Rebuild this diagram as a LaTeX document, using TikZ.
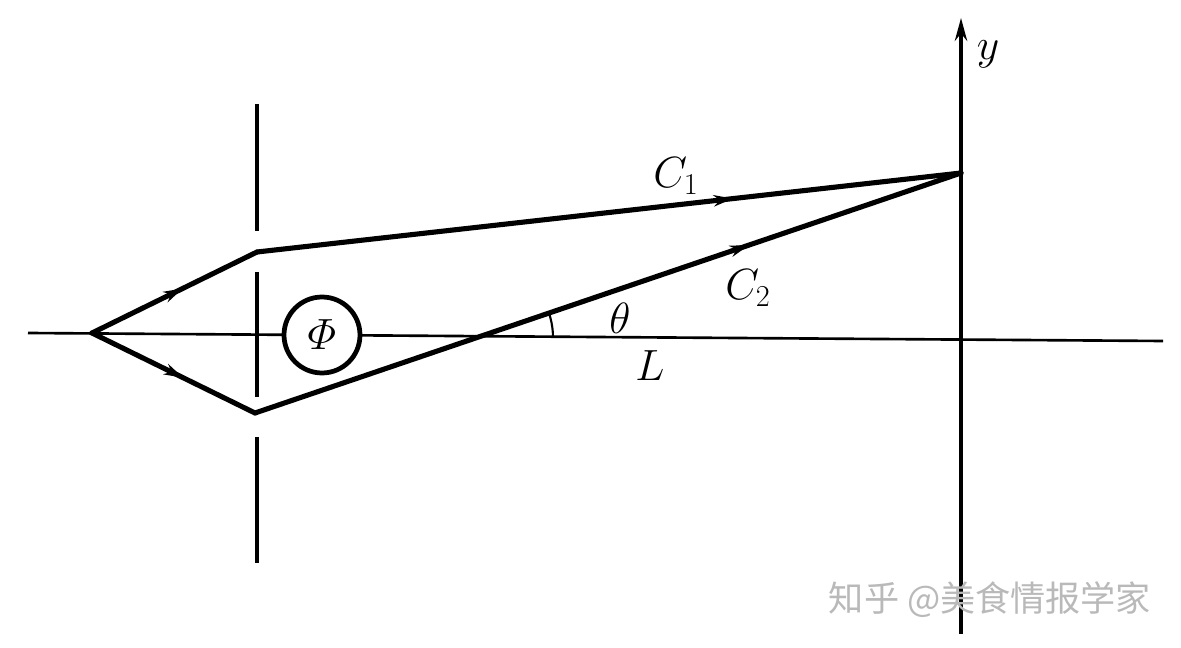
\documentclass[tikz,border=0pt]{standalone}
\usepackage{amsmath}
\usepackage{fontspec}
\newfontfamily\cjk{Noto Sans CJK SC}
\usetikzlibrary{arrows.meta,decorations.markings}

\begin{document}
\begin{tikzpicture}[x=0.02cm,y=-0.02cm,
  ray/.style={line width=2.9pt,line cap=round},
  midarrow/.style={postaction={decorate,decoration={markings,mark=at position #1 with {\arrow{Stealth[length=11pt,width=6.5pt]}}}}},
  lbl/.style={font=\fontsize{24}{28}\selectfont,inner sep=0pt}]
\useasboundingbox (0,0) rectangle (1181,648);

% axes
\coordinate (Lend) at (28,333);
\coordinate (Rend) at (1163,341);
\coordinate (Ytop) at (961,18);
\coordinate (Ybot) at (961,634);
\draw[line width=1.5pt] (Lend) -- (Rend);
\draw[line width=2pt,-{Stealth[length=13pt,width=7pt]}] (Ybot) -- (Ytop);
\draw (988,54) node[lbl] (ylab) {$y$};

% screen with two slits
\draw[line width=1.9pt] (257,104) -- (257,231);
\draw[line width=1.9pt] (257,272) -- (257,397);
\draw[line width=1.9pt] (257,437) -- (257,563);

% points
\coordinate (S) at (92,333);
\coordinate (A) at (257,252);
\coordinate (B) at (255,413);
\coordinate (P) at (961,173);
\coordinate (X) at (477,337.5);

% paths
\draw[ray,midarrow=0.55] (S) -- (A);
\draw[ray,midarrow=0.676] (A) -- (P);
\draw[ray,midarrow=0.56] (S) -- (B);
\draw[ray,midarrow=0.70] (B) -- (P);

% flux
\draw (322,335) node[draw,circle,line width=2.7pt,fill=white,inner sep=0pt,minimum size=1.52cm,font=\fontsize{24}{28}\selectfont] (Phi) {$\varPhi$};

% angle
\draw[line width=1.2pt] (X) ++(0:1.52cm) arc[start angle=0,end angle=19,radius=1.52cm];

\draw (676,176) node[lbl] (c1) {$C_1$};
\draw (748,288) node[lbl] (c2) {$C_2$};
\draw (620,318) node[lbl] (th) {$\theta$};
\draw (650,366) node[lbl] (L) {$L$};

\draw (990,600) node[text=gray!55,font=\cjk\fontsize{20}{20}\selectfont] (wm) {知乎 @美食情报学家};
\end{tikzpicture}
\end{document}
